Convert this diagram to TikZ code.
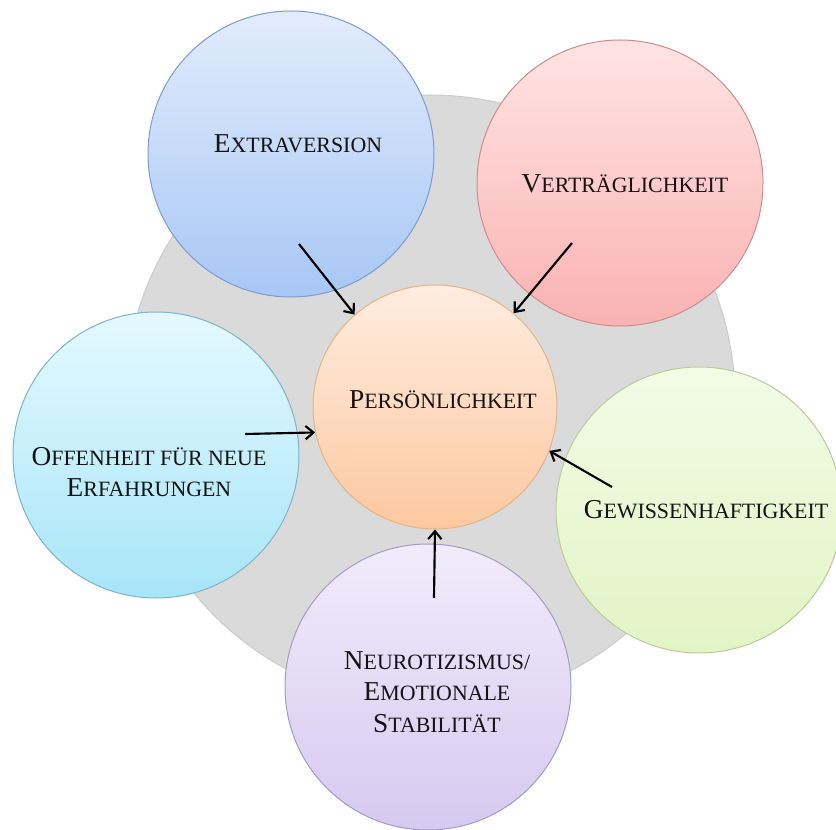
\documentclass[tikz,border=0pt]{standalone}
\usepackage{fontspec}
\setmainfont{Liberation Serif}
\usetikzlibrary{arrows.meta}
\definecolor{graybg}{RGB}{218,218,218}
\definecolor{grayline}{RGB}{204,204,204}
\definecolor{blueTop}{RGB}{226,236,252}
\definecolor{blueBot}{RGB}{168,199,245}
\definecolor{blueLine}{RGB}{125,155,205}
\definecolor{redTop}{RGB}{255,228,228}
\definecolor{redBot}{RGB}{250,178,178}
\definecolor{redLine}{RGB}{205,140,140}
\definecolor{orTop}{RGB}{255,237,224}
\definecolor{orBot}{RGB}{252,200,160}
\definecolor{orLine}{RGB}{228,180,135}
\definecolor{cyTop}{RGB}{228,249,255}
\definecolor{cyBot}{RGB}{168,229,248}
\definecolor{cyLine}{RGB}{125,180,200}
\definecolor{grTop}{RGB}{243,251,230}
\definecolor{grBot}{RGB}{226,244,196}
\definecolor{grLine}{RGB}{185,205,155}
\definecolor{puTop}{RGB}{241,236,251}
\definecolor{puBot}{RGB}{214,201,240}
\definecolor{puLine}{RGB}{165,155,195}
\definecolor{textcol}{RGB}{20,18,18}
\newcommand\Bg[1]{{\fontsize{20.5pt}{23.5pt}\selectfont #1}}
\begin{document}
\begin{tikzpicture}[x=0.75pt,y=-0.75pt,
  bubble/.style={circle, minimum size=214.5pt, inner sep=0pt, line width=0.75pt},
  txt/.style={font=\fontsize{16.4pt}{23.5pt}\selectfont, text=textcol, align=center, inner sep=0pt, anchor=base},
  arr/.style={line width=1.6pt, -{Straight Barb[length=6pt,width=10pt]}}]
\useasboundingbox (0,0) rectangle (836,830);
\node[circle, minimum size=457.5pt, inner sep=0pt, fill=graybg, draw=grayline, line width=0.75pt] (bg) at (430,400) {};
\node[bubble, top color=blueTop, bottom color=blueBot, draw=blueLine] (extra) at (291,154) {};
\node[bubble, top color=redTop, bottom color=redBot, draw=redLine] (vert) at (620,183) {};
\node[bubble, top color=cyTop, bottom color=cyBot, draw=cyLine] (offen) at (156,455) {};
\node[bubble, top color=grTop, bottom color=grBot, draw=grLine] (gew) at (699,510) {};
\node[bubble, top color=puTop, bottom color=puBot, draw=puLine] (neuro) at (428,687) {};
\node[circle, minimum size=183pt, inner sep=0pt, line width=0.75pt, top color=orTop, bottom color=orBot, draw=orLine] (pers) at (435,407) {};
\node[txt] (textra) at (298,153) {\Bg{E}XTRAVERSION};
\node[txt] (tvert) at (625,193) {\Bg{V}ERTRÄGLICHKEIT};
\node[txt] (tpers) at (443,409) {\Bg{P}ERSÖNLICHKEIT};
\node[txt] (toffen) at (149,497) {\Bg{O}FFENHEIT FÜR NEUE\\\Bg{E}RFAHRUNGEN};
\node[txt] (tgew) at (706,519) {\Bg{G}EWISSENHAFTIGKEIT};
\node[txt] (tneuro) at (437,732) {\Bg{N}EUROTIZISMUS/\\\Bg{E}MOTIONALE\\\Bg{S}TABILITÄT};
\coordinate (aextra) at (299,244);
\coordinate (avert) at (572,243);
\coordinate (aoffen) at (245,434);
\coordinate (agew) at (612,487);
\coordinate (aneuro) at (434,598);
\draw[arr] (aextra) -- (pers.131);
\draw[arr] (avert) -- (pers.50);
\draw[arr] (aoffen) -- (pers.192);
\draw[arr] (agew) -- (pers.-21);
\draw[arr] (aneuro) -- (pers.-90);
\end{tikzpicture}
\end{document}
